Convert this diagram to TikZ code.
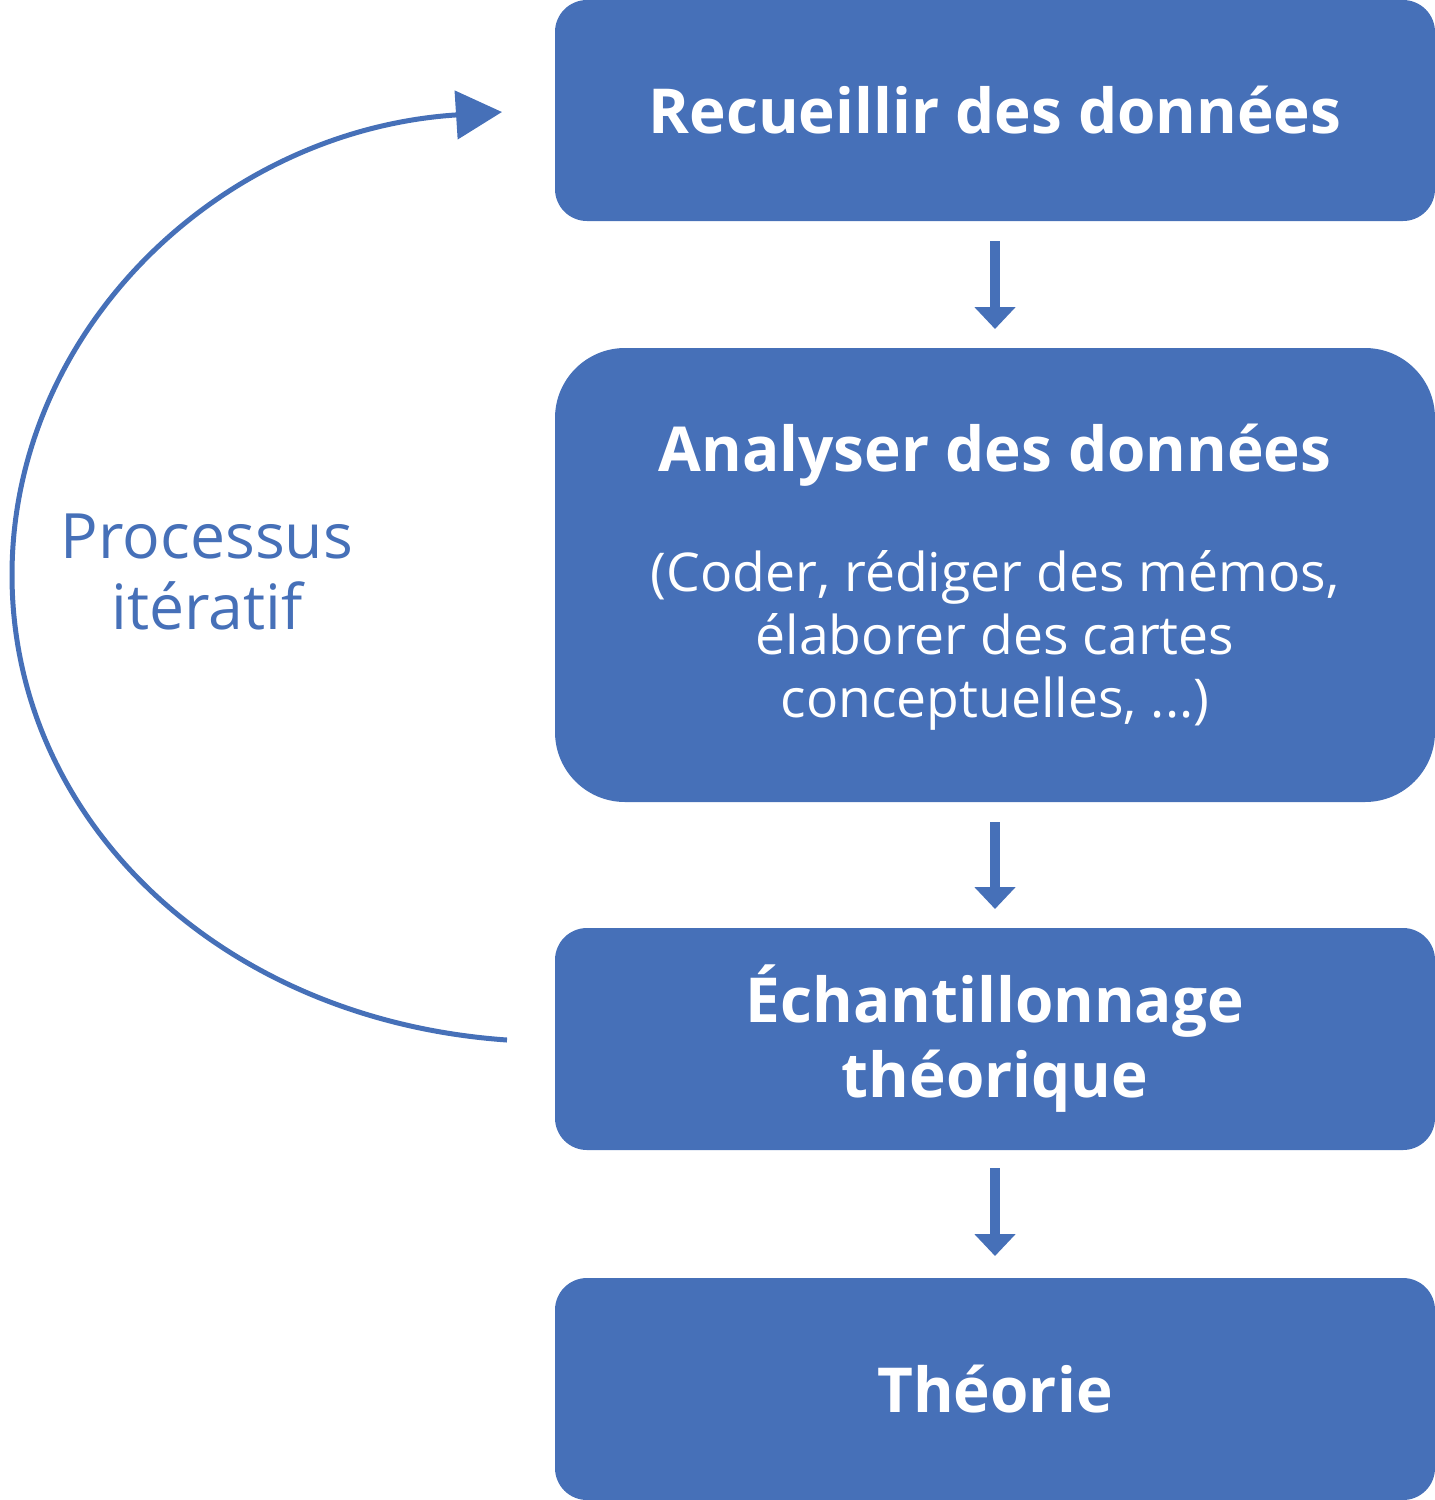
\documentclass[tikz,border=0pt]{standalone}
\usepackage{fontspec}
\setmainfont{Open Sans}
\usetikzlibrary{arrows.meta}
\definecolor{boxblue}{RGB}{70,112,184}
\tikzset{every picture/.style={line width=0.75pt},
  stepbox/.style={fill=boxblue,draw=none,rounded corners=32pt,minimum width=880pt,text=white,align=center,inner sep=0pt},
  flow/.style={draw=boxblue,line width=10pt,-{Triangle[width=40pt,length=22pt]}}}
\begin{document}
\begin{tikzpicture}[x=1pt,y=1pt,yscale=-1]
\useasboundingbox (0,0) rectangle (1435,1500);

% Boxes
\node [stepbox,minimum height=221pt,font=\fontsize{62}{70}\selectfont\bfseries] (collect) at (995,110.5) {Recueillir des données};
\node [stepbox,minimum height=454pt,rounded corners=70pt] (analyse) at (995,575) {};
\node [text=white,align=center,font=\fontsize{62}{70}\selectfont\bfseries] (analysetitle) at (995,455) {Analyser des données};
\node [text=white,align=center,font=\fontsize{53.5}{63}\selectfont] (analysesub) at (995,640) {(Coder, rédiger des mémos,\\élaborer des cartes\\conceptuelles, ...)};
\node [stepbox,minimum height=222pt,font=\fontsize{62}{75}\selectfont\bfseries] (sampling) at (995,1039) {Échantillonnage\\théorique};
\node [stepbox,minimum height=222pt,font=\fontsize{62}{70}\selectfont\bfseries] (theory) at (995,1389) {Théorie};

% Arrows
\coordinate (a1) at (995,241); \coordinate (b1) at (995,329);
\coordinate (a2) at (995,822); \coordinate (b2) at (995,909);
\coordinate (a3) at (995,1168); \coordinate (b3) at (995,1256);
\draw [flow] (a1) -- (b1);
\draw [flow] (a2) -- (b2);
\draw [flow] (a3) -- (b3);

% Loop
\coordinate (loopstart) at (507,1040);
\coordinate (loopend) at (502,112);
\draw [boxblue,line width=5pt,-{Triangle[width=48pt,length=46pt]}] (loopstart) .. controls (220,1020) and (12,820) .. (12,575) .. controls (12,330) and (220,130) .. (loopend);

% Label
\node [text=boxblue,align=center,font=\fontsize{62.5}{71}\selectfont] (loop) at (207,572) {Processus\\itératif};
\end{tikzpicture}
\end{document}
